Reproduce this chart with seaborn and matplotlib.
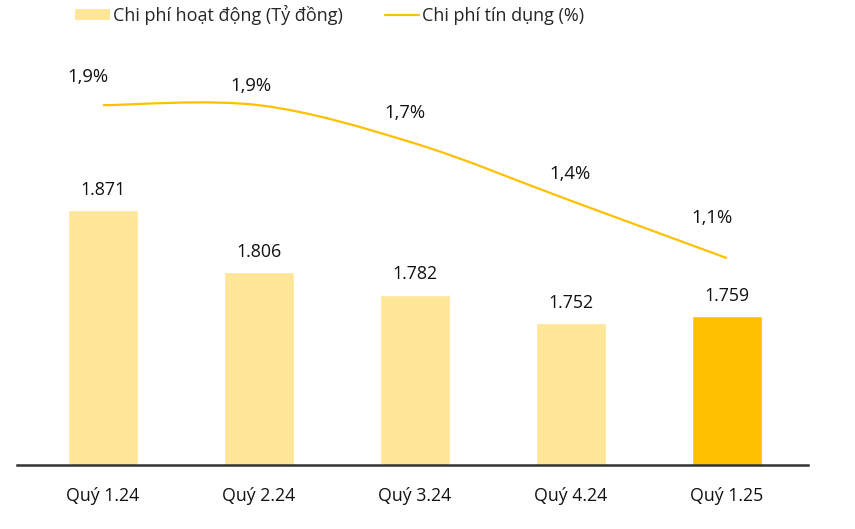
import matplotlib
matplotlib.use("Agg")
import matplotlib.pyplot as plt
import seaborn as sns
import numpy as np
import pandas as pd
from matplotlib.path import Path
from matplotlib.patches import PathPatch, Patch
from matplotlib.lines import Line2D

quarters = ["Quý 1.24", "Quý 2.24", "Quý 3.24", "Quý 4.24", "Quý 1.25"]
op_cost = [1871, 1806, 1782, 1752, 1759]          # Chi phí hoạt động (Tỷ đồng)
credit_cost = [1.9, 1.9, 1.7, 1.4, 1.1]           # Chi phí tín dụng (%)
bar_labels = ["1.871", "1.806", "1.782", "1.752", "1.759"]
line_labels = ["1,9%", "1,9%", "1,7%", "1,4%", "1,1%"]

LIGHT = "#FFE699"
GOLD = "#FFC000"
bar_colors = [LIGHT, LIGHT, LIGHT, LIGHT, GOLD]

sns.set_style("white")
plt.rcParams["font.family"] = ["Open Sans", "DejaVu Sans"]

fig = plt.figure(figsize=(8.55, 5.29), dpi=100)
ax = fig.add_axes([0.0201, 0.121, 0.925, 0.803])

df = pd.DataFrame({"quarter": quarters, "cost": op_cost})
sns.barplot(data=df, x="quarter", y="cost", hue="quarter", palette=bar_colors,
            width=0.45, legend=False, ax=ax, saturation=1)
ax.set_ylim(1602.5, 2050)
ax.set_xlim(-0.55, 4.52)

for i, (v, lab) in enumerate(zip(op_cost, bar_labels)):
    ax.annotate(lab, (i, v), xytext=(0, 14.5), textcoords="offset points",
                ha="center", va="center", fontsize=12.8, color="#111111")

# smoothed credit cost line (Excel style bezier through the points)
ax2 = ax.twinx()
ax2.set_ylim(0.018, 2.24)
xs = np.arange(len(credit_cost), dtype=float)
ys = np.array(credit_cost, dtype=float)
verts = [(xs[0], ys[0])]
codes = [Path.MOVETO]
n = len(xs)
for i in range(n - 1):
    p0 = (xs[max(i - 1, 0)], ys[max(i - 1, 0)])
    p1 = (xs[i], ys[i])
    p2 = (xs[i + 1], ys[i + 1])
    p3 = (xs[min(i + 2, n - 1)], ys[min(i + 2, n - 1)])
    c1 = (p1[0] + (p2[0] - p0[0]) / 6, p1[1] + (p2[1] - p0[1]) / 6)
    c2 = (p2[0] - (p3[0] - p1[0]) / 6, p2[1] - (p3[1] - p1[1]) / 6)
    verts += [c1, c2, p2]
    codes += [Path.CURVE4] * 3
ax2.add_patch(PathPatch(Path(verts, codes), facecolor="none", edgecolor=GOLD, lw=1.6))

label_offsets = [(-11, 20), (-6, 14), (-7, 22), (-1, 19), (-11, 29)]
for i, (v, lab) in enumerate(zip(credit_cost, line_labels)):
    ax2.annotate(lab, (i, v), xytext=label_offsets[i], textcoords="offset points",
                 ha="center", va="center", fontsize=13.3, color="#111111")

for a in (ax, ax2):
    for s in ["top", "right", "left"]:
        a.spines[s].set_visible(False)
    a.set_yticks([])
    a.set_ylabel("")
ax2.spines["bottom"].set_visible(False)
ax.spines["bottom"].set_color("#333333")
ax.spines["bottom"].set_linewidth(1.8)
ax.set_xlabel("")
ax.tick_params(axis="x", length=0, pad=16, labelsize=12.8, labelcolor="#111111")

handles = [Patch(facecolor=LIGHT, edgecolor="none"),
           Line2D([0], [0], color=GOLD, lw=1.6)]
fig.legend(handles, ["Chi phí hoạt động (Tỷ đồng)", "Chi phí tín dụng (%)"],
           loc="upper left", bbox_to_anchor=(0.069, 1.022), ncol=2, frameon=False,
           fontsize=13.0, handlelength=1.9, handleheight=0.6, handletextpad=0.2,
           columnspacing=2.3)

fig.savefig("out.png", dpi=100)
